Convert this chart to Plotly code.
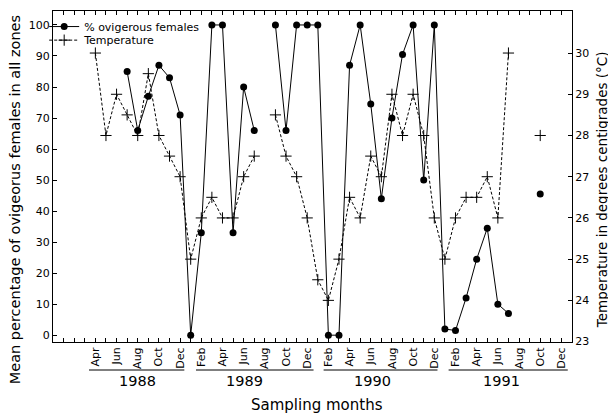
import plotly.graph_objects as go

# ---- data ----
# month index: 0 = Jan 1988
months = list(range(3, 46))  # Apr 1988 .. Oct 1991

ovigerous_pct = [
    None, None, None, 85, 66, 77, 87, 83, 71,          # Apr-Dec 1988
    0, 33, 100, 100, 33, 80, 66, None, 100, 66, 100, 100,  # Jan-Dec 1989
    100, 0, 0, 87, 100, 74.5, 44, 70, 90.5, 100, 50, 100,  # Jan-Dec 1990
    2, 1.5, 12, 24.5, 34.5, 10, 7, None, None, 45.5,       # Jan-Oct 1991
]

temperature = [
    30, 28, 29, 28.5, 28, 29.5, 28, 27.5, 27,               # Apr-Dec 1988
    25, 26, 26.5, 26, 26, 27, 27.5, None, 28.5, 27.5, 27, 26,  # 1989
    24.5, 24, 25, 26.5, 26, 27.5, 27, 29, 28, 29, 28, 26,      # 1990
    25, 26, 26.5, 26.5, 27, 26, 30, None, None, 28,            # Jan-Oct 1991
]

tick_months = list(range(3, 48, 2))
month_names = ["Jan", "Feb", "Mar", "Apr", "May", "Jun",
               "Jul", "Aug", "Sep", "Oct", "Nov", "Dec"]
tick_labels = [month_names[m % 12] for m in tick_months]

years = ["1988", "1989", "1990", "1991"]
year_label_pos = [7.0, 17.1, 29.2, 41.3]
year_line_start = [2.4, 12.5, 24.55, 36.35]
year_line_end = [11.4, 23.6, 35.3, 47.6]

FONT = "DejaVu Sans"

fig = go.Figure()
fig.add_trace(go.Scatter(
    x=months, y=temperature, yaxis="y2", mode="lines+markers",
    name="Temperature", legend="legend2",
    line=dict(color="black", width=1, dash="3px,2px"),
    marker=dict(symbol="cross-thin", size=8, color="black",
                line=dict(width=1, color="black")),
))
fig.add_trace(go.Scatter(
    x=months, y=ovigerous_pct, mode="lines+markers",
    name="% ovigerous females", legend="legend",
    line=dict(color="black", width=1),
    marker=dict(symbol="circle", size=7, color="black"),
))

annotations = []
for name, xp in zip(years, year_label_pos):
    annotations.append(dict(x=xp, y=-0.118, xref="x", yref="paper", text=name,
                            showarrow=False, font=dict(family=FONT, size=14.5, color="black"),
                            xanchor="center", yanchor="middle"))
annotations.append(dict(x=0.509, y=-0.19, xref="paper", yref="paper", text="Sampling months",
                        showarrow=False, font=dict(family=FONT, size=15, color="black"),
                        xanchor="center", yanchor="middle"))
annotations.append(dict(x=-0.074, y=0.43, xref="paper", yref="paper",
                        text="Mean percentage of ovigeorus females in all zones",
                        textangle=-90, showarrow=False,
                        font=dict(family=FONT, size=14.5, color="black"),
                        xanchor="center", yanchor="middle"))
annotations.append(dict(x=1.058, y=0.459, xref="paper", yref="paper",
                        text="Temperature in degrees centigrades (°C)",
                        textangle=-90, showarrow=False,
                        font=dict(family=FONT, size=13.5, color="black"),
                        xanchor="center", yanchor="middle"))

shapes = []
for s, e in zip(year_line_start, year_line_end):
    shapes.append(dict(type="line", xref="x", yref="paper", x0=s, x1=e,
                       y0=-0.0846, y1=-0.0846, line=dict(color="black", width=1)))

fig.update_layout(
    width=608, height=411,
    margin=dict(l=45, r=44, t=3, b=77, autoexpand=False),
    paper_bgcolor="white", plot_bgcolor="white",
    showlegend=True,
    font=dict(family=FONT, size=11, color="black"),
    xaxis=dict(range=[-1, 48], tickmode="array", tickvals=tick_months, ticktext=tick_labels,
               tickangle=-90, ticks="inside", ticklen=4, tickcolor="black",
               showline=True, linecolor="black", linewidth=1, mirror="allticks",
               showgrid=False, zeroline=False, automargin=False,
               tickfont=dict(family=FONT, size=11),
               minor=dict(tickmode="array", tickvals=list(range(0, 48)), ticks="inside",
                          ticklen=4, tickcolor="black", showgrid=False)),
    yaxis=dict(range=[-2.2, 104.5], tickmode="array", tickvals=list(range(0, 101, 10)),
               ticks="inside", ticklen=4, tickcolor="black",
               showline=True, linecolor="black", linewidth=1, automargin=False,
               showgrid=False, zeroline=False, tickfont=dict(family=FONT, size=11)),
    yaxis2=dict(range=[22.99, 31.02], overlaying="y", side="right", dtick=1,
                ticks="inside", ticklen=4, tickcolor="black",
                showline=True, linecolor="black", linewidth=1, automargin=False,
                showgrid=False, zeroline=False, tickfont=dict(family=FONT, size=11)),
    legend=dict(x=-0.017, y=0.953, xanchor="left", yanchor="middle", visible=True,
                bgcolor="rgba(0,0,0,0)", font=dict(family=FONT, size=11), itemwidth=30),
    legend2=dict(x=-0.017, y=0.912, xanchor="left", yanchor="middle", visible=True,
                 bgcolor="rgba(0,0,0,0)", font=dict(family=FONT, size=11), itemwidth=30),
    annotations=annotations,
    shapes=shapes,
)

fig.write_html("out.html")
